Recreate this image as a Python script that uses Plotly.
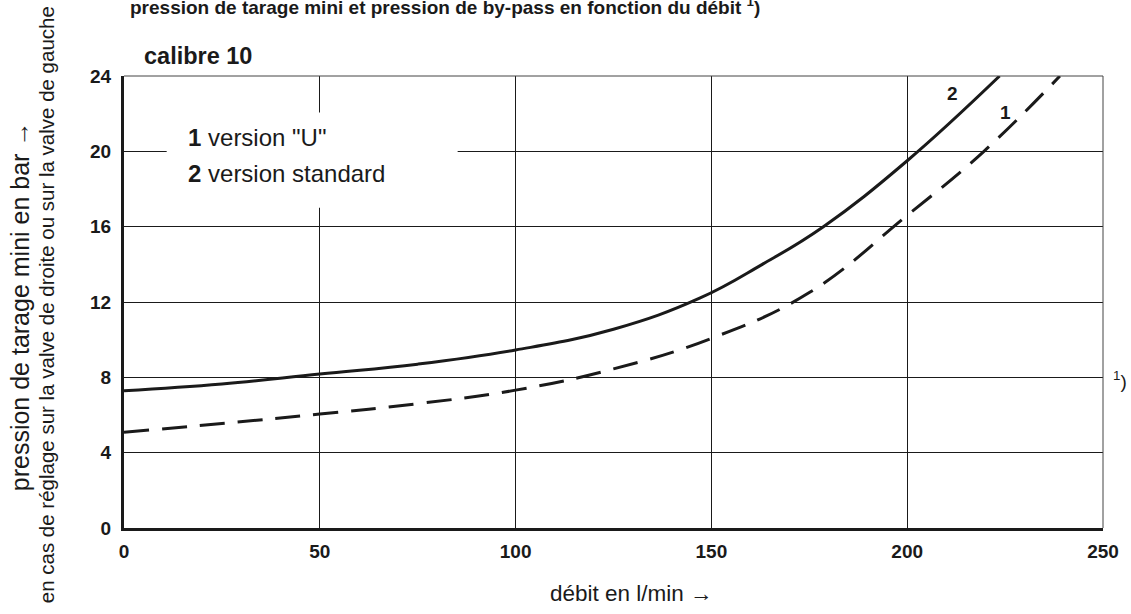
import plotly.graph_objects as go

# --- data ---
flow_std = [0, 25, 50, 75, 100, 125, 147, 163, 178.6, 200, 223.6]
press_std = [7.29, 7.65, 8.18, 8.7, 9.45, 10.55, 12.2, 14.0, 16.0, 19.5, 24.0]

flow_u = [0, 25, 50, 75, 100, 125, 150, 175, 200, 219.6, 239]
press_u = [5.08, 5.55, 6.05, 6.6, 7.32, 8.45, 10.07, 12.5, 16.6, 20.0, 24.0]

x_ticks = [0, 50, 100, 150, 200, 250]
y_ticks = [0, 4, 8, 12, 16, 20, 24]

FONT = "Liberation Sans, Arial, sans-serif"
INK = "#1a1a1a"

fig = go.Figure()
fig.add_trace(go.Scatter(x=flow_std, y=press_std, mode="lines",
                         line=dict(color=INK, width=3, shape="spline", smoothing=1.2),
                         hoverinfo="skip", showlegend=False))
fig.add_trace(go.Scatter(x=flow_u, y=press_u, mode="lines",
                         line=dict(color=INK, width=3, shape="spline", smoothing=1.2, dash="25px,13px"),
                         hoverinfo="skip", showlegend=False))

fig.update_layout(
    width=1131, height=614,
    margin=dict(l=124, r=21, t=76, b=86),
    paper_bgcolor="white", plot_bgcolor="white",
    font=dict(family=FONT, color=INK),
    showlegend=False,
)
fig.update_xaxes(range=[0, 250], tickvals=x_ticks, showgrid=True, gridcolor=INK, gridwidth=1,
                 zeroline=False, showline=True, linecolor=INK, linewidth=3,
                 ticks="", ticklabelstandoff=4,
                 tickfont=dict(size=19, weight="bold", family=FONT, color=INK))
fig.update_yaxes(range=[0, 24], tickvals=y_ticks, showgrid=True, gridcolor=INK, gridwidth=1,
                 zeroline=False, showline=True, linecolor=INK, linewidth=3,
                 ticks="", ticklabelstandoff=6,
                 tickfont=dict(size=19, weight="bold", family=FONT, color=INK))

# thin top / right frame
fig.add_shape(type="line", xref="paper", yref="paper", x0=0, x1=1, y0=1, y1=1,
              line=dict(color="#444", width=1))
fig.add_shape(type="line", xref="paper", yref="paper", x0=1, x1=1, y0=0, y1=1,
              line=dict(color="#444", width=1))

# legend box (white, covers the grid)
fig.add_shape(type="rect", xref="x", yref="y", x0=10.9, x1=85.2, y0=17.0, y1=22.06,
              fillcolor="white", line=dict(width=0), layer="above")

ann = []
ann.append(dict(xref="x", yref="y", x=15.9, y=20.75, xanchor="left", yanchor="middle",
                text="<b>1</b> version \"U\"", showarrow=False, font=dict(size=24)))
ann.append(dict(xref="x", yref="y", x=15.9, y=18.84, xanchor="left", yanchor="middle",
                text="<b>2</b> version standard", showarrow=False, font=dict(size=24)))
ann.append(dict(xref="x", yref="y", x=211.5, y=23.07, text="<b>2</b>", showarrow=False,
                font=dict(size=19)))
ann.append(dict(xref="x", yref="y", x=225, y=22.08, text="<b>1</b>", showarrow=False,
                font=dict(size=19)))
ann.append(dict(xref="paper", yref="paper", x=0.018, y=1.045, xanchor="left", yanchor="middle",
                text="<b>calibre 10</b>", showarrow=False, font=dict(size=23.5)))
ann.append(dict(xref="paper", yref="paper", x=0.004, y=1.155, xanchor="left", yanchor="middle",
                text="<b>pression de tarage mini et pression de by-pass en fonction du débit <sup>1</sup>)</b>",
                showarrow=False, font=dict(size=19)))
ann.append(dict(xref="paper", yref="paper", x=0.518, y=-0.146, xanchor="center", yanchor="middle",
                text="débit en l/min →", showarrow=False, font=dict(size=22.5)))
ann.append(dict(xref="paper", yref="y", x=1.008, y=7.85, xanchor="left", yanchor="middle",
                text="<sup>1</sup>)", showarrow=False, font=dict(size=19)))
ann.append(dict(xref="paper", yref="paper", x=-0.1065, y=0.49, xanchor="center", yanchor="middle",
                textangle=-90, text="pression de tarage mini en bar →", showarrow=False,
                font=dict(size=25)))
ann.append(dict(xref="paper", yref="paper", x=-0.0791, y=0.494, xanchor="center", yanchor="middle",
                textangle=-90,
                text="en cas de réglage sur la valve de droite ou sur la valve de gauche",
                showarrow=False, font=dict(size=20.5)))
fig.update_layout(annotations=ann)

fig.write_html("out.html")
